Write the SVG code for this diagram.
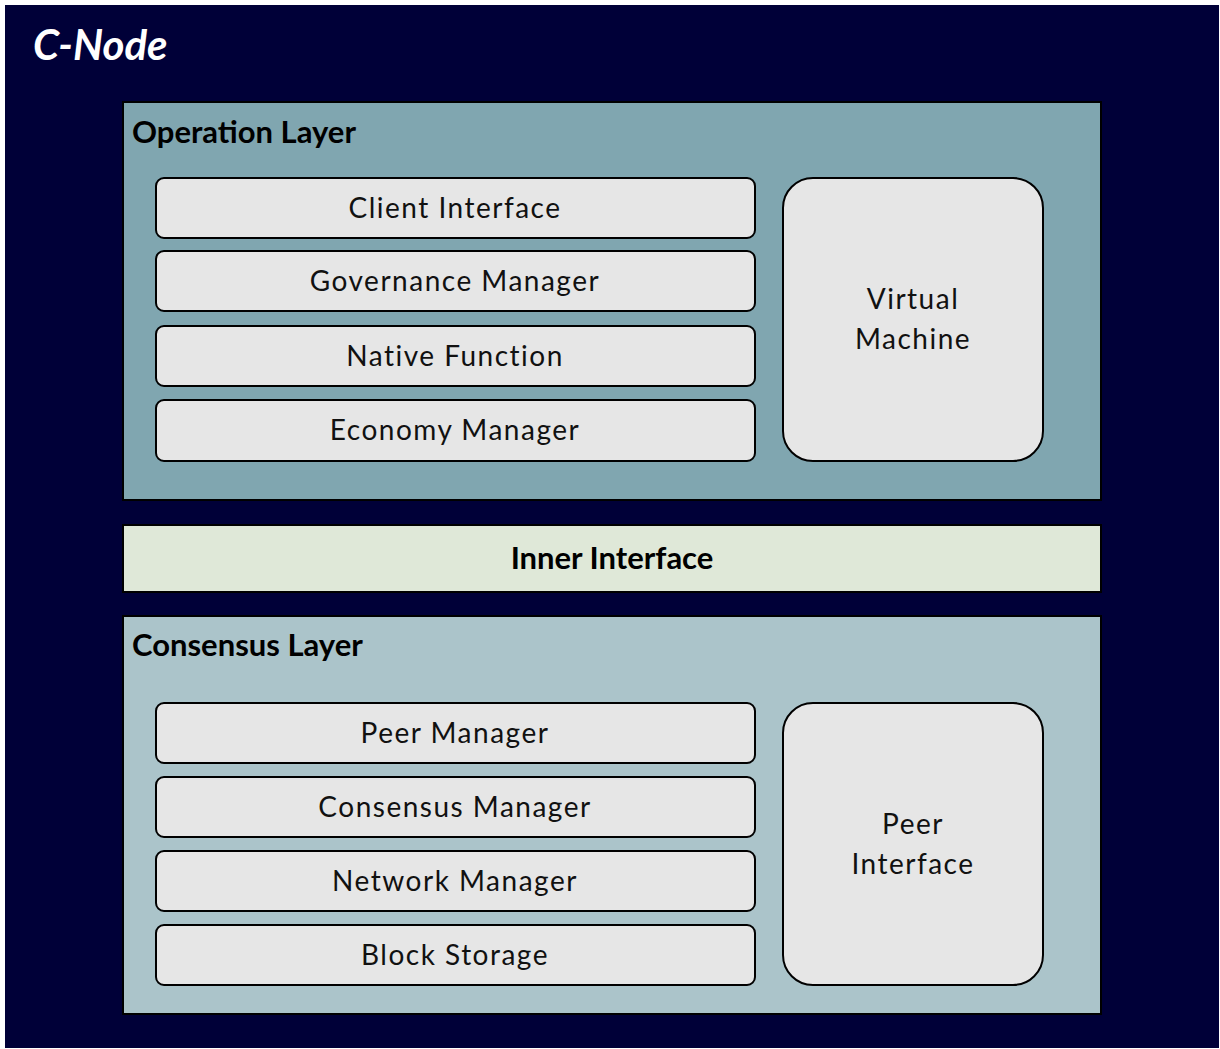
<svg xmlns="http://www.w3.org/2000/svg" width="1220" height="1049" viewBox="0 0 1220 1049">
<style>
.box{fill:#e6e6e6;stroke:#000;stroke-width:2}
.lt{font-family:Lato,"Noto Sans",sans-serif;font-size:28px;letter-spacing:1.5px;fill:#111;text-anchor:middle}
.hd{font-family:Lato,"Noto Sans",sans-serif;font-size:31px;font-weight:bold;fill:#000}
.layer{stroke:#000;stroke-width:2}
</style>
<rect x="0" y="0" width="1220" height="1049" fill="#fff"/>
<g id="cnode"><rect x="5" y="5" width="1214" height="1043" fill="#000038"/>
<text x="33" y="60" font-family="Lato,'Noto Sans',sans-serif" font-size="42" font-weight="bold" font-style="italic" fill="#fff">C-Node</text></g>
<g id="operation"><rect class="layer" x="123" y="102" width="978" height="398" fill="#80a6b0"/><text class="hd" x="132" y="143">Operation Layer</text></g>
<g id="client"><rect class="box" x="156" y="178" width="599" height="60" rx="8"/><text class="lt" x="455" y="218">Client Interface</text></g>
<g id="gov"><rect class="box" x="156" y="251" width="599" height="60" rx="8"/><text class="lt" x="455" y="291">Governance Manager</text></g>
<g id="native"><rect class="box" x="156" y="326" width="599" height="60" rx="8"/><text class="lt" x="455" y="366">Native Function</text></g>
<g id="economy"><rect class="box" x="156" y="400" width="599" height="61" rx="8"/><text class="lt" x="455" y="440">Economy Manager</text></g>
<g id="vm"><rect class="box" x="783" y="178" width="260" height="283" rx="30"/><text class="lt" x="913" y="309">Virtual</text><text class="lt" x="913" y="349">Machine</text></g>
<g id="inner"><rect class="layer" x="123" y="525" width="978" height="67" fill="#dfe8d8"/><text class="hd" x="612" y="569" text-anchor="middle">Inner Interface</text></g>
<g id="consensus"><rect class="layer" x="123" y="616" width="978" height="398" fill="#abc4ca"/><text class="hd" x="132" y="656">Consensus Layer</text></g>
<g id="peerm"><rect class="box" x="156" y="703" width="599" height="60" rx="8"/><text class="lt" x="455" y="743">Peer Manager</text></g>
<g id="consm"><rect class="box" x="156" y="777" width="599" height="60" rx="8"/><text class="lt" x="455" y="817">Consensus Manager</text></g>
<g id="netm"><rect class="box" x="156" y="851" width="599" height="60" rx="8"/><text class="lt" x="455" y="891">Network Manager</text></g>
<g id="block"><rect class="box" x="156" y="925" width="599" height="60" rx="8"/><text class="lt" x="455" y="965">Block Storage</text></g>
<g id="peeri"><rect class="box" x="783" y="703" width="260" height="282" rx="30"/><text class="lt" x="913" y="834">Peer</text><text class="lt" x="913" y="874">Interface</text></g>
<g id="connectors"/>
</svg>
